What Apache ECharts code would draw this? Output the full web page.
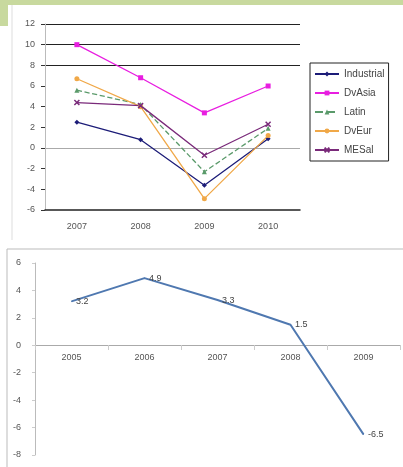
<!DOCTYPE html>
<html><head><meta charset="utf-8">
<script src="https://cdn.jsdelivr.net/npm/echarts@6/dist/echarts.min.js"></script>
<style>html,body{margin:0;padding:0;background:#fff}#c{width:403px;height:467px}</style>
</head><body><div id="c"></div>
<script>
const topYears = ['2007','2008','2009','2010'];
const industrial = [2.5, 0.8, -3.6, 0.9];
const dvAsia = [10.0, 6.8, 3.4, 6.0];
const latin = [5.6, 4.2, -2.3, 1.9];
const dvEur = [6.7, 4.0, -4.9, 1.2];
const meSal = [4.4, 4.1, -0.7, 2.3];
const bottomYears = ['2005','2006','2007','2008','2009'];
const growth = [3.2, 4.9, 3.3, 1.5, -6.5];

const chart = echarts.init(document.getElementById('c'));
const font = 'Liberation Sans, Arial, sans-serif';
const lbl = {color:'#555', fontSize:9, fontFamily:font};
function topSeries(name, data, color, symbol, dashed){
  return {name, type:'line', xAxisIndex:0, yAxisIndex:0, data, symbol, symbolSize:5,
    lineStyle:{color, width:1.3, type: dashed ? 'dashed':'solid'},
    itemStyle:{color, borderColor:color, borderWidth: symbol.indexOf('path')===0 ? 1.5 : 0},
    emphasis:{disabled:true}, z:3};
}
chart.setOption({
  animation:false,
  graphic:[
    {type:'rect', shape:{x:0,y:0,width:403,height:5}, style:{fill:'#c8d99e'}},
    {type:'rect', shape:{x:0,y:0,width:8,height:26}, style:{fill:'#c8d99e'}},
    {type:'line', shape:{x1:12,y1:5,x2:12,y2:240}, style:{stroke:'#ddd',lineWidth:1}},
    {type:'line', shape:{x1:7,y1:249,x2:403,y2:249}, style:{stroke:'#bbb',lineWidth:1}},
    {type:'line', shape:{x1:7,y1:249,x2:7,y2:467}, style:{stroke:'#bbb',lineWidth:1}}
  ],
  legend:{
    data:['Industrial','DvAsia','Latin','DvEur','MESal'],
    orient:'vertical', left:310, top:63, itemWidth:24, itemHeight:6, itemGap:9,
    borderColor:'#222', borderWidth:1, padding:[6,4,6,4],
    textStyle:{color:'#444', fontSize:10, fontFamily:font}
  },
  grid:[
    {left:45, top:24, width:255, height:186},
    {left:35, top:263, width:365, height:192}
  ],
  xAxis:[
    {type:'category', gridIndex:0, data:topYears, boundaryGap:true,
     axisLine:{onZero:false, lineStyle:{color:'#222', width:1.5}},
     axisTick:{show:false}, axisLabel:Object.assign({margin:12},lbl)},
    {type:'category', gridIndex:1, data:bottomYears, boundaryGap:true, position:'bottom', offset:-110,
     axisLine:{onZero:false, lineStyle:{color:'#aaa'}},
     axisTick:{show:true, lineStyle:{color:'#ccc'}}, axisLabel:Object.assign({margin:8},lbl)}
  ],
  yAxis:[
    {type:'value', gridIndex:0, min:-6, max:12, interval:2,
     axisLine:{show:true, lineStyle:{color:'#bbb'}},
     axisTick:{show:true, length:4, lineStyle:{color:'#333'}},
     axisLabel:Object.assign({margin:10},lbl),
     splitLine:{show:true, lineStyle:{color:['transparent','transparent','transparent','#aaa','transparent','transparent','transparent','#222','#222','#222'], width:1}}},
    {type:'value', gridIndex:1, min:-8, max:6, interval:2,
     axisLine:{show:true, lineStyle:{color:'#bbb'}},
     axisTick:{show:true, length:3, lineStyle:{color:'#ccc'}},
     axisLabel:Object.assign({margin:14},lbl),
     splitLine:{show:false}}
  ],
  series:[
    topSeries('Industrial', industrial, '#1c1c78', 'diamond', false),
    topSeries('DvAsia', dvAsia, '#e81ee0', 'rect', false),
    topSeries('Latin', latin, '#5a9a6a', 'triangle', true),
    topSeries('DvEur', dvEur, '#f0a848', 'circle', false),
    topSeries('MESal', meSal, '#7a2a7a', 'path://M0,0L10,10M10,0L0,10', false),
    {name:'growth', type:'line', xAxisIndex:1, yAxisIndex:1, data:growth, symbol:'circle', symbolSize:1,
     lineStyle:{color:'#4f78b0', width:2}, itemStyle:{color:'#4f78b0'},
     label:{show:true, position:'right', distance:4, color:'#444', fontSize:9, fontFamily:font},
     emphasis:{disabled:true}}
  ]
});
</script></body></html>
